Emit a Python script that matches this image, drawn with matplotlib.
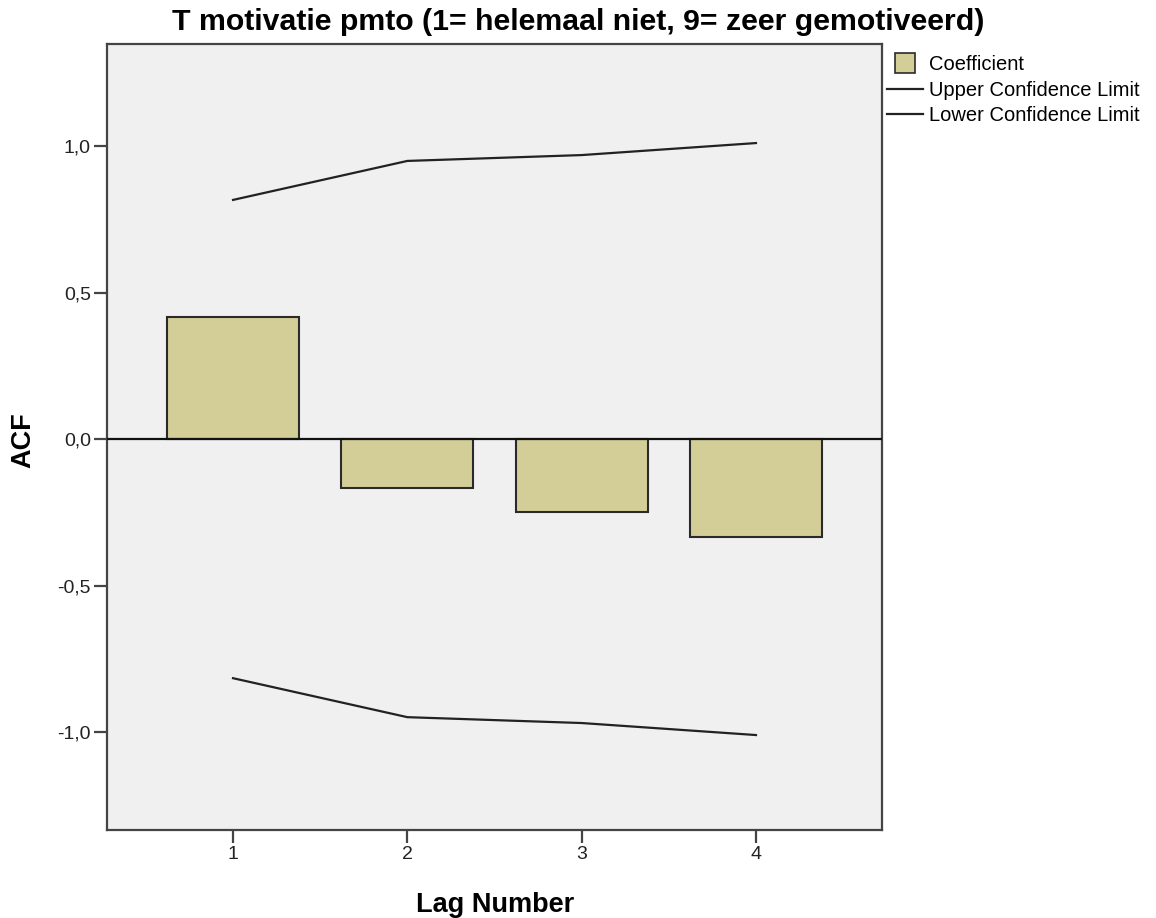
import numpy as np
import matplotlib.pyplot as plt
from matplotlib.lines import Line2D

plt.rcParams['font.family'] = ['Liberation Sans', 'DejaVu Sans']

lags = [1, 2, 3, 4]
acf = [0.416, -0.167, -0.249, -0.334]
upper = [0.816, 0.949, 0.969, 1.010]
lower = [-0.816, -0.949, -0.969, -1.010]
yticks = [-1.0, -0.5, 0.0, 0.5, 1.0]
ytick_labels = ['-1,0', '-0,5', '0,0', '0,5', '1,0']

W, H = 1156, 918
fig = plt.figure(figsize=(W / 100, H / 100), dpi=100)
ax = fig.add_axes([107 / W, 88 / H, 775 / W, 786 / H])
ax.set_facecolor('#f0f0f0')

bar_fill = '#d3ce98'
ax.bar(lags, acf, width=0.757, color=bar_fill, edgecolor='#2a2a2a', linewidth=1.5, zorder=2)
ax.axhline(0, color='#111111', linewidth=1.6, zorder=3)
ax.plot(lags, upper, color='#222222', linewidth=1.6, zorder=3)
ax.plot(lags, lower, color='#222222', linewidth=1.6, zorder=3)

ax.set_xlim(0.277, 4.723)
ax.set_ylim(-1.334, 1.348)
ax.set_xticks(lags)
ax.set_xticklabels([str(v) for v in lags])
ax.set_yticks(yticks)
ax.set_yticklabels(ytick_labels)
ax.tick_params(axis='both', direction='out', length=9.4, width=1.6, color='#444444',
               labelsize=14, labelcolor='#222222', pad=2.2)

for s in ax.spines.values():
    s.set_color('#444444')
    s.set_linewidth(1.6)

# axis titles and chart title placed in figure pixels
fig.text(495 / W, 1 - 912 / H, 'Lag Number', ha='center', va='baseline',
         fontsize=19.5, fontweight='bold')
fig.text(23 / W, 1 - 440 / H, 'ACF', ha='center', va='center', rotation=90,
         fontsize=19.5, fontweight='bold')
fig.text(0.5, 1 - 22 / H, 'T motivatie pmto (1= helemaal niet, 9= zeer gemotiveerd)',
         ha='center', va='center', fontsize=21.8, fontweight='bold')

handles = [Line2D([], [], linestyle='none', marker='s', markersize=14.4,
                  markerfacecolor=bar_fill, markeredgecolor='#2a2a2a', markeredgewidth=1.2),
           Line2D([], [], color='#222222', linewidth=1.6),
           Line2D([], [], color='#222222', linewidth=1.6)]
fig.legend(handles, ['Coefficient', 'Upper Confidence Limit', 'Lower Confidence Limit'],
           loc='upper left', bbox_to_anchor=(887 / W, 1 - 55 / H), frameon=False,
           fontsize=14.5, handlelength=1.79, handletextpad=0.3, labelspacing=0.33,
           borderaxespad=0, borderpad=0)

fig.savefig('out.png', dpi=100)
